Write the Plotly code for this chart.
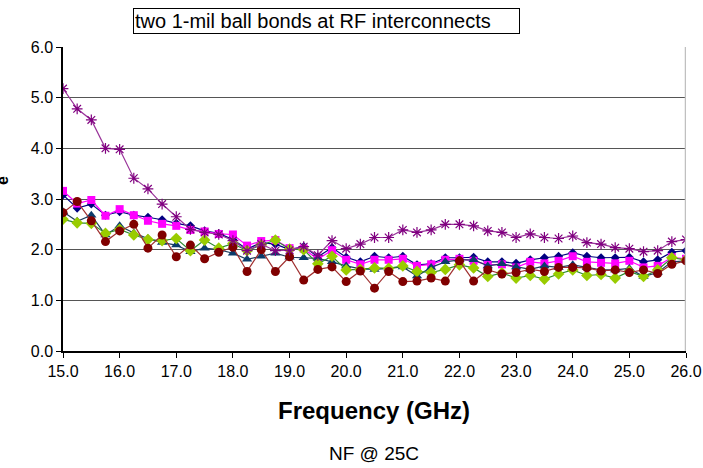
import plotly.graph_objects as go

freq = [15.0 + 0.25 * i for i in range(45)]

s_navy = [3.08, 2.82, 2.90, 2.68, 2.75, 2.68, 2.64, 2.59, 2.52, 2.47, 2.37, 2.32, 2.20, 2.01, 2.14, 2.11, 2.00,
          2.06, 1.86, 2.04, 1.85, 1.76, 1.87, 1.84, 1.87, 1.70, 1.72, 1.84, 1.84, 1.85, 1.76, 1.76, 1.73,
          1.80, 1.84, 1.87, 1.94, 1.87, 1.84, 1.84, 1.85, 1.76, 1.80, 1.95, 1.98]
s_magenta = [3.16, 2.91, 2.98, 2.67, 2.80, 2.68, 2.57, 2.51, 2.47, 2.39, 2.36, 2.31, 2.30, 2.08, 2.17, 2.19, 2.03,
             2.02, 1.81, 1.99, 1.80, 1.71, 1.80, 1.80, 1.82, 1.68, 1.71, 1.80, 1.82, 1.78, 1.70, 1.71, 1.65,
             1.76, 1.73, 1.78, 1.87, 1.76, 1.74, 1.73, 1.78, 1.65, 1.68, 1.85, 1.82]
s_triangle = [2.75, 2.56, 2.68, 2.29, 2.47, 2.33, 2.22, 2.14, 2.09, 1.96, 2.03, 2.00, 1.93, 1.81, 1.87, 1.93, 1.85,
              1.84, 1.83, 1.76, 1.68, 1.62, 1.61, 1.63, 1.66, 1.48, 1.65, 1.76, 1.80, 1.80, 1.68, 1.72, 1.66,
              1.61, 1.68, 1.65, 1.70, 1.65, 1.60, 1.60, 1.63, 1.47, 1.55, 1.76, 1.78]
s_lime = [2.60, 2.53, 2.52, 2.32, 2.40, 2.29, 2.20, 2.18, 2.22, 1.98, 2.19, 2.03, 2.12, 1.98, 2.09, 2.19, 2.01,
          2.00, 1.72, 1.87, 1.60, 1.61, 1.64, 1.63, 1.68, 1.57, 1.55, 1.61, 1.70, 1.64, 1.47, 1.54, 1.44,
          1.49, 1.42, 1.52, 1.60, 1.49, 1.51, 1.44, 1.57, 1.47, 1.60, 1.84, 1.80]
s_darkred = [2.73, 2.95, 2.57, 2.16, 2.37, 2.50, 2.03, 2.29, 1.86, 2.09, 1.82, 1.95, 2.05, 1.57, 2.00, 1.57, 1.86,
             1.40, 1.61, 1.66, 1.37, 1.58, 1.24, 1.57, 1.37, 1.38, 1.44, 1.38, 1.78, 1.38, 1.60, 1.52, 1.55,
             1.61, 1.57, 1.65, 1.65, 1.64, 1.58, 1.60, 1.55, 1.60, 1.53, 1.71, 1.78]
s_purple = [5.18, 4.78, 4.56, 4.00, 3.98, 3.41, 3.20, 2.90, 2.65, 2.40, 2.34, 2.30, 2.18, 1.98, 2.11, 1.98, 1.99,
            2.06, 1.89, 2.18, 2.02, 2.11, 2.24, 2.24, 2.39, 2.34, 2.39, 2.50, 2.50, 2.47, 2.37, 2.34, 2.24,
            2.31, 2.24, 2.22, 2.27, 2.14, 2.11, 2.04, 2.02, 1.96, 1.98, 2.16, 2.20]

x_ticks = [15.0 + i for i in range(12)]
y_ticks = [0.0, 1.0, 2.0, 3.0, 4.0, 5.0, 6.0]

title_text = "two 1-mil ball bonds at RF interconnects"
x_title = "Frequency (GHz)"
caption = "NF @ 25C"

series = [
    (s_navy, "#000080", "#000080", "diamond", 7),
    (s_magenta, "#FF00FF", "#FF00FF", "square", 8),
    (s_triangle, "#1F3F5F", "#0B3C6B", "triangle-up", 9),
    (s_lime, "#2E8B2E", "#99CC00", "diamond", 9),
    (s_darkred, "#A03030", "#800000", "circle", 9),
    (s_purple, "#993399", "#800080", "asterisk-open", 9),
]

fig = go.Figure()
for vals, lc, mc, sym, sz in series:
    marker = dict(symbol=sym, size=sz, color=mc)
    if sym == "asterisk-open":
        marker["line"] = dict(color=mc, width=1.2)
    else:
        marker["line"] = dict(width=0)
    fig.add_trace(go.Scatter(x=freq, y=vals, mode="lines+markers",
                             line=dict(color=lc, width=1.2), marker=marker,
                             showlegend=False, hoverinfo="skip"))

# plot area at x 63..686, y 47..351 in the window (body margin removed by post_script)
W, H = 703, 468
L, T, R, B = 63, 47, 17, 117
PW, PH = W - L - R, H - T - B


def px(xp):
    return (xp - L) / PW


def py(yp):
    return (H - B - yp) / PH


fig.update_layout(
    width=W, height=H,
    margin=dict(l=L, r=R, t=T, b=B, autoexpand=False),
    paper_bgcolor="white", plot_bgcolor="white",
    font=dict(family="Liberation Sans, Arial, sans-serif", color="black", size=16),
    xaxis=dict(range=[15.0, 26.0], tickvals=x_ticks, ticktext=[f"{v:.1f}" for v in x_ticks],
               showgrid=False, zeroline=False, showline=True, linecolor="black", linewidth=1.5,
               ticks="outside", ticklen=5, tickcolor="black"),
    yaxis=dict(range=[0.0, 6.0], tickvals=y_ticks, ticktext=[f"{v:.1f}" for v in y_ticks],
               showgrid=True, gridcolor="#555555", gridwidth=1, zeroline=False,
               showline=True, linecolor="black", linewidth=1.5,
               ticks="outside", ticklen=5, tickcolor="black"),
    shapes=[dict(type="line", xref="x", yref="paper", x0=26.0, x1=26.0, y0=0.0, y1=1.0,
                 line=dict(color="#C0C0C0", width=2.5))],
    annotations=[
        dict(text=title_text, xref="paper", yref="paper", x=px(133), y=py(8),
             xanchor="left", yanchor="top", showarrow=False, font=dict(size=20),
             bordercolor="black", borderwidth=1, borderpad=1, width=383, align="left"),
        dict(text="<b>" + x_title + "</b>", xref="paper", yref="paper", x=px(374), y=py(410),
             xanchor="center", yanchor="middle", showarrow=False, font=dict(size=24)),
        dict(text=caption, xref="paper", yref="paper", x=px(374), y=py(453), xanchor="center",
             yanchor="middle", showarrow=False, font=dict(size=19)),
        dict(text="<b>e</b>", xref="paper", yref="paper", x=px(2), y=py(181), xanchor="center",
             yanchor="middle", showarrow=False, textangle=-90, font=dict(size=16)),
    ],
)

fig.write_html("out.html", config={"displayModeBar": False},
               post_script="document.body.style.margin='0px';")
